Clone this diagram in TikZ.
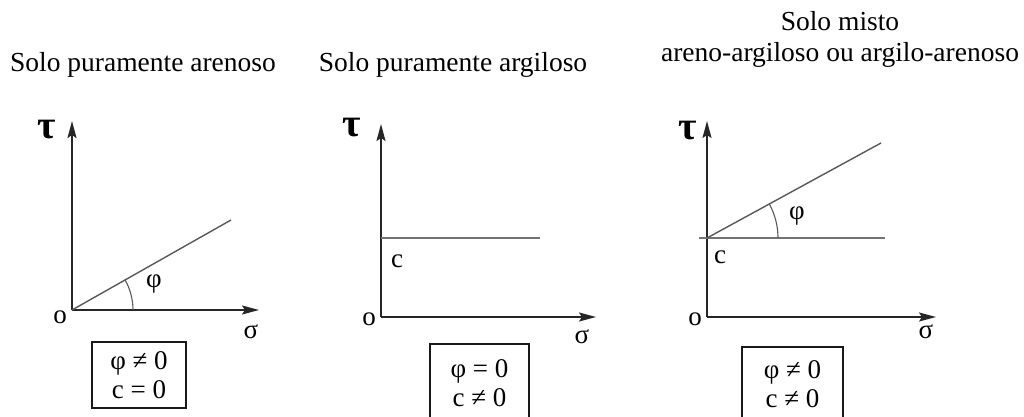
\documentclass[tikz,border=0pt]{standalone}
\usepackage{fontspec}
\setmainfont{Liberation Serif}
\usetikzlibrary{arrows.meta}
\begin{document}
\begin{tikzpicture}[x=1pt,y=-1pt,
  axis/.style={draw=black!85, line width=1.8pt, -{Stealth[length=17pt,width=9pt,inset=3pt]}},
  envelope/.style={draw=black!65, line width=1.4pt},
  level/.style={draw=black!55, line width=1.2pt},
  anglearc/.style={draw=black!65, line width=1.1pt},
  title/.style={font=\fontsize{27.5}{32}\selectfont, anchor=base, inner sep=0pt},
  axlabel/.style={font=\fontsize{27}{30}\selectfont, inner sep=0pt},
  taulabel/.style={font=\fontsize{40}{44}\selectfont\bfseries, inner sep=0pt},
  condbox/.style={draw=black!90, line width=1.2pt, align=center, inner sep=0pt,
    font=\fontsize{27}{28.5}\selectfont}
]
\clip (0,0) rectangle (1024,417);
\fill[white] (0,0) rectangle (1024,417);

% titles
\node[title] (t1) at (143,72) {Solo puramente arenoso};
\node[title] (t2) at (453,72) {Solo puramente argiloso};
\node[title] (t3a) at (840,31) {Solo misto};
\node[title] (t3b) at (840,62) {areno-argiloso ou argilo-arenoso};

% ---------- panel 1 ----------
\coordinate (O1) at (72,310);
\coordinate (Y1) at (72,121);
\coordinate (X1) at (259,310);
\coordinate (E1) at (231,220);
\coordinate (A1) at (133,310);
\draw[axis] (O1) -- (Y1);
\draw[axis] (O1) -- (X1);
\draw[envelope] (O1) -- (E1);
\draw[anglearc] (A1) arc[start angle=0, end angle=-29.5, radius=61];
\node[taulabel] (tau1) at (47,130) {τ};
\node[axlabel] (o1) at (60,317) {o};
\node[axlabel] (s1) at (251,332) {σ};
\node[axlabel] (p1) at (154,284) {φ};
\node[condbox, minimum width=94pt, minimum height=66pt] (b1) at (139,375) {φ ≠ 0\\c = 0};

% ---------- panel 2 ----------
\coordinate (O2) at (381,317);
\coordinate (Y2) at (381,124);
\coordinate (X2) at (596,317);
\coordinate (L2a) at (381,238);
\coordinate (L2b) at (540,238);
\draw[axis] (O2) -- (Y2);
\draw[axis] (O2) -- (X2);
\draw[level] (L2a) -- (L2b);
\node[taulabel] (tau2) at (352,128) {τ};
\node[axlabel] (o2) at (369,319) {o};
\node[axlabel] (s2) at (582,337) {σ};
\node[axlabel] (c2) at (397,261) {c};
\node[condbox, minimum width=99pt, minimum height=78pt] (b2) at (479.5,383) {φ = 0\\c ≠ 0};

% ---------- panel 3 ----------
\coordinate (O3) at (707,317);
\coordinate (Y3) at (707,121);
\coordinate (X3) at (936,317);
\coordinate (L3a) at (699,238);
\coordinate (L3b) at (885,238);
\coordinate (C3) at (707,238);
\coordinate (E3) at (881,143);
\coordinate (A3) at (778,238);
\draw[axis] (O3) -- (Y3);
\draw[axis] (O3) -- (X3);
\draw[level] (L3a) -- (L3b);
\draw[envelope] (C3) -- (E3);
\draw[anglearc] (A3) arc[start angle=0, end angle=-28.6, radius=71];
\node[taulabel] (tau3) at (688,131) {τ};
\node[axlabel] (o3) at (695,319) {o};
\node[axlabel] (s3) at (926,332) {σ};
\node[axlabel] (c3) at (720,257) {c};
\node[axlabel] (p3) at (797,216) {φ};
\node[condbox, minimum width=101pt, minimum height=74pt] (b3) at (792.5,384) {φ ≠ 0\\c ≠ 0};
\end{tikzpicture}
\end{document}
